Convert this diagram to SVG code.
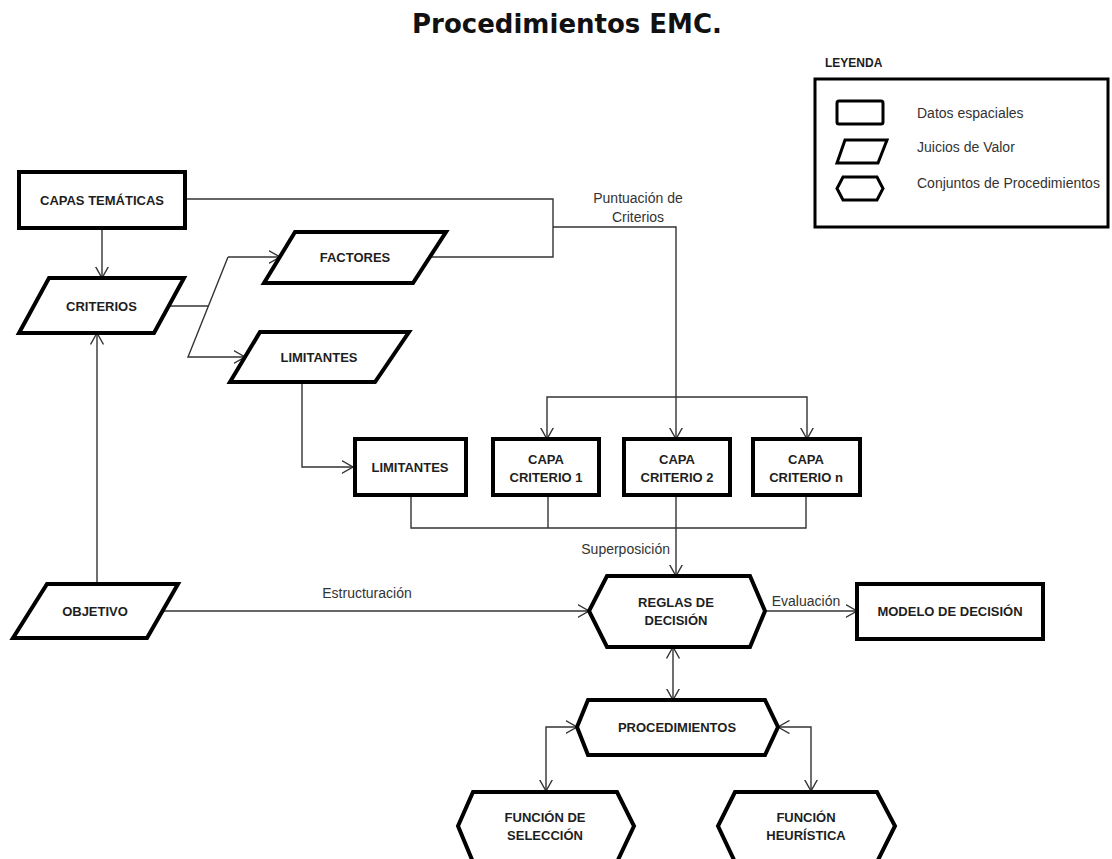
<svg xmlns="http://www.w3.org/2000/svg" width="1112" height="859" viewBox="0 0 1112 859">
<defs>
<style>
.node{fill:#fff;stroke:#000;stroke-width:4;stroke-linejoin:miter}
.icon{fill:#fff;stroke:#000;stroke-width:3}
.lbl{font-family:"Liberation Sans",Arial,sans-serif;font-weight:bold;font-size:13px;fill:#1e1e1e;text-anchor:middle}
.txt{font-family:"Liberation Sans",Arial,sans-serif;font-size:14px;fill:#333}
.conn path{fill:none;stroke:#333;stroke-width:1.4}
</style>
<marker id="arr" viewBox="0 0 12 14" refX="11.5" refY="7" markerWidth="12" markerHeight="14" markerUnits="userSpaceOnUse" orient="auto-start-reverse">
<path d="M0,0.5 L11.5,7 L0,13.5" fill="none" stroke="#333" stroke-width="1.4"/>
</marker>
</defs>
<rect width="1112" height="859" fill="#fff"/>
<text x="567" y="33" font-family="'DejaVu Sans',Verdana,sans-serif" font-weight="bold" font-size="26" text-anchor="middle" fill="#111">Procedimientos EMC.</text>

<g id="legend">
<text x="825" y="67" font-family="'Liberation Sans',Arial,sans-serif" font-weight="bold" font-size="12" fill="#1e1e1e">LEYENDA</text>
<rect x="815" y="79" width="293" height="148" fill="#fff" stroke="#000" stroke-width="3"/>
<rect class="icon" x="837" y="101" width="46" height="23" rx="2"/>
<polygon class="icon" points="845,140 887,140 878,163 837,163"/>
<polygon class="icon" points="843,177 877,177 883,188.5 877,200 843,200 837,188.5"/>
<text class="txt" x="917" y="118" font-size="13">Datos espaciales</text>
<text class="txt" x="917" y="152" font-size="13">Juicios de Valor</text>
<text class="txt" x="917" y="188" font-size="13">Conjuntos de Procedimientos</text>
</g>

<g class="conn" id="connectors">
<path d="M102,228 V278" marker-end="url(#arr)"/>
<path d="M169,306 H208"/>
<path d="M228,257 H280" marker-end="url(#arr)"/>
<path d="M228,257 L188,357 H245" marker-end="url(#arr)"/>
<path d="M302,382 V467 H353" marker-end="url(#arr)"/>
<path d="M185,199 H553 V257 H430"/>
<path d="M553,227 H676 V439" marker-end="url(#arr)"/>
<path d="M547,439 V397 H807 V439" marker-start="url(#arr)" marker-end="url(#arr)"/>
<path d="M411,495 V528 H806 V495"/>
<path d="M548,495 V528"/>
<path d="M676,495 V576" marker-end="url(#arr)"/>
<path d="M97,584 V333" marker-end="url(#arr)"/>
<path d="M162,611 H589" marker-end="url(#arr)"/>
<path d="M765,611 H857" marker-end="url(#arr)"/>
<path d="M673,647 V700" marker-start="url(#arr)" marker-end="url(#arr)"/>
<path d="M577,727 H546 V791" marker-start="url(#arr)" marker-end="url(#arr)"/>
<path d="M778,727 H811 V791" marker-start="url(#arr)" marker-end="url(#arr)"/>
<text class="txt" x="638" y="203" text-anchor="middle">Puntuación de</text>
<text class="txt" x="638" y="222" text-anchor="middle">Criterios</text>
<text class="txt" x="670" y="554" text-anchor="end">Superposición</text>
<text class="txt" x="367" y="598" text-anchor="middle">Estructuración</text>
<text class="txt" x="806" y="606" text-anchor="middle">Evaluación</text>
</g>

<g id="capas-tematicas">
<rect class="node" x="19" y="172" width="166" height="56"/>
<text class="lbl" x="102" y="204.5">CAPAS TEMÁTICAS</text>
</g>
<g id="criterios">
<polygon class="node" points="49,278 184,278 154,333 19,333"/>
<text class="lbl" x="101.5" y="310.5">CRITERIOS</text>
</g>
<g id="factores">
<polygon class="node" points="295,232 446,232 413,283 264,283"/>
<text class="lbl" x="355" y="261.5">FACTORES</text>
</g>
<g id="limitantes-juicio">
<polygon class="node" points="260,332 409,332 375,382 230,382"/>
<text class="lbl" x="319" y="361.5">LIMITANTES</text>
</g>
<g id="limitantes-capa">
<rect class="node" x="355" y="439" width="111" height="56"/>
<text class="lbl" x="410" y="471.5">LIMITANTES</text>
</g>
<g id="capa-criterio-1">
<rect class="node" x="493" y="439" width="106" height="56"/>
<text class="lbl" x="546" y="463.5">CAPA</text>
<text class="lbl" x="546" y="481.5">CRITERIO 1</text>
</g>
<g id="capa-criterio-2">
<rect class="node" x="624" y="439" width="106" height="56"/>
<text class="lbl" x="677" y="463.5">CAPA</text>
<text class="lbl" x="677" y="481.5">CRITERIO 2</text>
</g>
<g id="capa-criterio-n">
<rect class="node" x="753" y="439" width="107" height="56"/>
<text class="lbl" x="806" y="463.5">CAPA</text>
<text class="lbl" x="806" y="481.5">CRITERIO n</text>
</g>
<g id="objetivo">
<polygon class="node" points="47,584 178,584 147,638 13,638"/>
<text class="lbl" x="95" y="615.5">OBJETIVO</text>
</g>
<g id="reglas-decision">
<polygon class="node" points="607,576 750,576 765,611 750,647 607,647 589,611"/>
<text class="lbl" x="676" y="606.5">REGLAS DE</text>
<text class="lbl" x="676" y="624.5">DECISIÓN</text>
</g>
<g id="modelo-decision">
<rect class="node" x="857" y="584" width="186" height="55"/>
<text class="lbl" x="950" y="616">MODELO DE DECISIÓN</text>
</g>
<g id="procedimientos">
<polygon class="node" points="588,700 765,700 778,727 765,755 588,755 577,727"/>
<text class="lbl" x="677" y="731.5">PROCEDIMIENTOS</text>
</g>
<g id="funcion-seleccion">
<polygon class="node" points="473,792 617,792 634,826 617,862 473,862 458,826"/>
<text class="lbl" x="545" y="821.5">FUNCIÓN DE</text>
<text class="lbl" x="545" y="839.5">SELECCIÓN</text>
</g>
<g id="funcion-heuristica">
<polygon class="node" points="735,792 877,792 895,826 877,862 735,862 718,826"/>
<text class="lbl" x="806" y="821.5">FUNCIÓN</text>
<text class="lbl" x="806" y="839.5">HEURÍSTICA</text>
</g>
</svg>
